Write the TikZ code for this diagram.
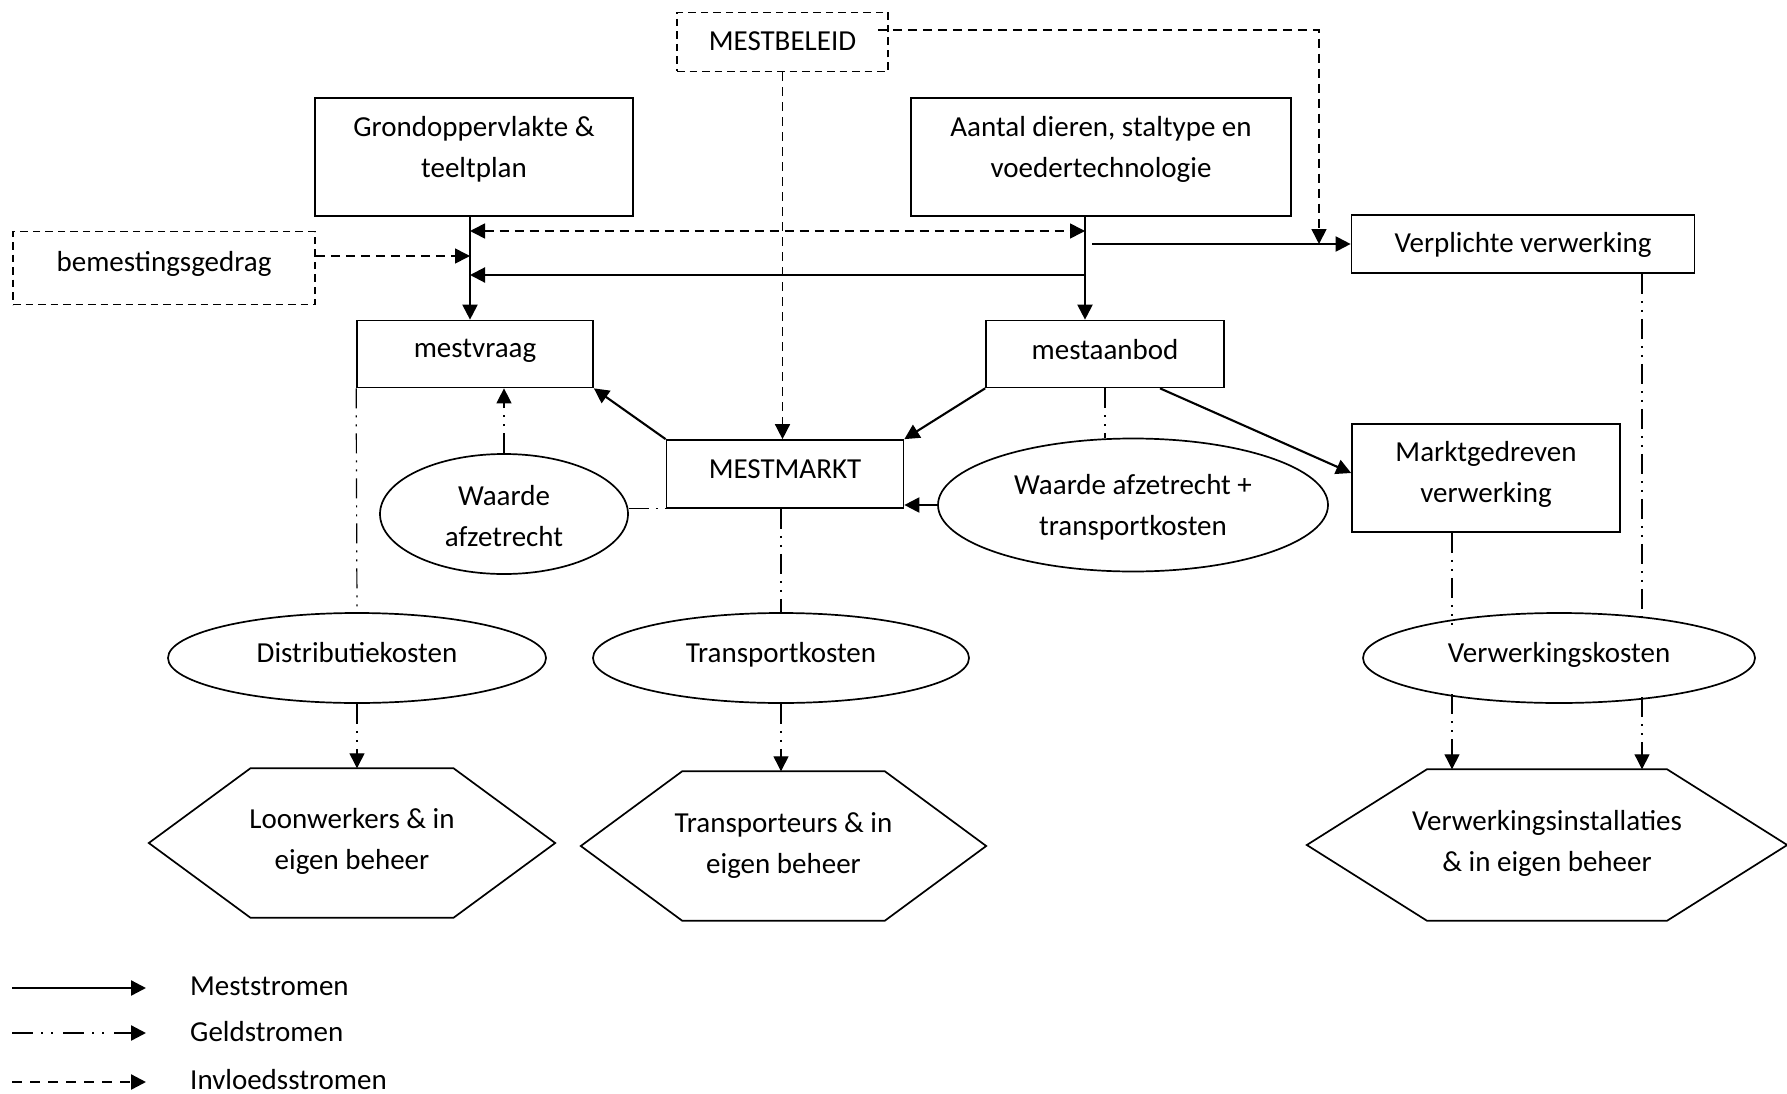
\documentclass[tikz,border=0pt]{standalone}
\usepackage{fontspec}
\setmainfont{Carlito}
\usetikzlibrary{arrows.meta,calc,shapes.geometric}
\begin{document}
\begin{tikzpicture}[x=1pt,y=-1pt,
  font=\fontsize{29}{41}\selectfont,
  box/.style={draw,line width=1.7pt,rectangle,inner sep=0pt},
  dbox/.style={box,line width=1.5pt,dash pattern=on 7.5pt off 5pt},
  ell/.style={draw,line width=1.7pt,ellipse,inner sep=0pt},
  hexbase/.style={inner sep=0pt},
  txt/.style={align=center,inner sep=0pt},
  hexline/.style={line width=1.7pt,line join=miter},
  tip/.style={-{Triangle[length=15pt,width=15pt]}},
  mest/.style={line width=2.1pt,tip},
  invl/.style={line width=1.6pt,dash pattern=on 9pt off 6pt,tip},
  geld/.style={line width=1.2pt,dash pattern=on 20pt off 7pt on 2pt off 7pt on 2pt off 7pt},
  legtext/.style={anchor=west,inner sep=0pt}
]
\useasboundingbox (0,0) rectangle (1787,1094);

% shapes
\node[dbox,minimum width=211pt,minimum height=59pt] (beleid) at (782.5,42) {};
\node[box,minimum width=318pt,minimum height=118pt] (grond) at (474,157) {};
\node[box,minimum width=380pt,minimum height=118pt] (aantal) at (1101,157) {};
\node[dbox,minimum width=302pt,minimum height=73pt] (bemest) at (164,268) {};
\node[box,minimum width=343pt,minimum height=58pt] (verpl) at (1523,244) {};
\node[box,minimum width=236pt,minimum height=67pt] (vraag) at (475,354) {};
\node[box,minimum width=238pt,minimum height=67pt] (aanbod) at (1105,354) {};
\node[box,minimum width=237pt,minimum height=68pt] (markt) at (785,474) {};
\node[ell,minimum width=248pt,minimum height=120pt] (wa) at (504,514) {};
\node[ell,minimum width=390pt,minimum height=133pt] (wat) at (1133,505) {};
\node[box,minimum width=268pt,minimum height=108pt] (marktg) at (1486,478) {};
\node[ell,minimum width=378pt,minimum height=90pt] (distr) at (357,658) {};
\node[ell,minimum width=376pt,minimum height=90pt] (transk) at (781,658) {};
\node[ell,minimum width=392pt,minimum height=90pt] (verwk) at (1559,658) {};
\node[hexbase,minimum width=406pt,minimum height=149pt] (loon) at (352,843) {};
\node[hexbase,minimum width=405pt,minimum height=149pt] (transp) at (783.5,846) {};
\node[hexbase,minimum width=480pt,minimum height=151pt] (inst) at (1547,845) {};

% texts
\node[txt] (beleidT) at ($(beleid)+(0,-1)$) {MESTBELEID};
\node[txt] (grondT) at ($(grond)+(0,-8)$) {Grondoppervlakte \&\\teeltplan};
\node[txt] (aantalT) at ($(aantal)+(0,-8)$) {Aantal dieren, staltype en\\voedertechnologie};
\node[txt] (bemestT) at ($(bemest)+(0,-4.5)$) {bemestingsgedrag};
\node[txt] (verplT) at ($(verpl)+(0,1)$) {Verplichte verwerking};
\node[txt] (vraagT) at ($(vraag)+(0,-3)$) {mestvraag};
\node[txt] (aanbodT) at ($(aanbod)+(0,-4.5)$) {mestaanbod};
\node[txt] (marktT) at ($(markt)+(0,-4.5)$) {MESTMARKT};
\node[txt] (waT) at ($(wa)+(0,2)$) {Waarde\\afzetrecht};
\node[txt] (watT) at ($(wat)+(0,2)$) {Waarde afzetrecht +\\transportkosten};
\node[txt] (marktgT) at ($(marktg)+(0,-3.5)$) {Marktgedreven\\verwerking};
\node[txt] (distrT) at ($(distr)+(0,-5)$) {Distributiekosten};
\node[txt] (transkT) at ($(transk)+(0,-3)$) {Transportkosten};
\node[txt] (verwkT) at ($(verwk)+(0,-3)$) {Verwerkingskosten};
\node[txt] (loonT) at ($(loon)+(0,-2)$) {Loonwerkers \& in\\eigen beheer};
\node[txt] (transpT) at (transp) {Transporteurs \& in\\eigen beheer};
\node[txt] (instT) at ($(inst)+(0,-2)$) {Verwerkingsinstallaties\\\& in eigen beheer};

% hexagon outlines
\foreach \h in {loon,transp,inst}{
  \draw[hexline] (\h.west) -- ($(\h.north west)!0.25!(\h.north east)$) -- ($(\h.north west)!0.75!(\h.north east)$) -- (\h.east) -- ($(\h.south west)!0.75!(\h.south east)$) -- ($(\h.south west)!0.25!(\h.south east)$) -- cycle;
}

% junction coordinates
\coordinate (gv) at ($(grond.south)+(-4,0)$);
\coordinate (av) at ($(aantal.south)+(-16,0)$);
\coordinate (bturn) at (1319,30);
\coordinate (bstart) at ($(beleid.east |- bturn)+(-11,0)$);
\coordinate (ams) at ($(aanbod.south)+(55,0)$);
\coordinate (vr) at ($(verpl.south)+(119,0)$);
\coordinate (ml) at ($(marktg.south)+(-34,0)$);

% meststromen
\draw[mest] (gv) -- (gv |- vraag.north);
\draw[mest] (av) -- (av |- aanbod.north);
\draw[mest] (av |- 0,275) -- (gv |- 0,275);
\draw[mest] ($(av |- verpl.west)+(7,0)$) -- (verpl.west);
\draw[mest] (markt.north west) -- (vraag.south east);
\draw[mest] (aanbod.south west) -- (markt.north east);
\draw[mest] (ams) -- ($(marktg.west)+(0,-5)$);
\draw[mest] (wat.west) -- (markt.east |- wat.west);

% invloedsstromen
\draw[invl,{Triangle[length=15pt,width=15pt]}-{Triangle[length=15pt,width=15pt]}] (gv |- 0,231) -- (av |- 0,231);
\draw[invl] (bemest.east |- 0,256) -- (gv |- 0,256);
\draw[invl] (bstart) -- (bturn) -- (bturn |- verpl.west);
\draw[invl] (beleid.south) -- (beleid.south |- markt.north);

% geldstromen
\draw[geld] (vraag.south west) -- (distr.north);
\draw[geld,tip] (distr.south) -- (distr.south |- loon.north);
\draw[geld,tip] (wa.north) -- (wa.north |- vraag.south);
\draw[geld] (wa.east |- markt.south west) -- (markt.south west);
\draw[geld] (transk.north |- markt.south) -- (transk.north);
\draw[geld,tip] (transk.south) -- (transk.south |- transp.north);
\draw[geld] (aanbod.south) -- (aanbod.south |- wat.north);
\draw[geld] (vr) -- (vr |- 0,617);
\draw[geld] (ml) -- (ml |- 0,625);
\draw[geld,tip] (ml |- 0,694) -- (ml |- inst.north);
\draw[geld,tip] (vr |- 0,697) -- (vr |- inst.north);

% legend
\node[legtext] (lmest) at (190,986) {Meststromen};
\node[legtext] (lgeld) at (190,1032) {Geldstromen};
\node[legtext] (linvl) at (190,1080) {Invloedsstromen};
\coordinate (lm1) at (12,988);
\coordinate (lm2) at (146,988);
\coordinate (lg1) at (12,1033);
\coordinate (lg2) at (146,1033);
\coordinate (li1) at (12,1082);
\coordinate (li2) at (146,1082);
\draw[mest,line width=2.4pt] (lm1) -- (lm2);
\draw[line width=2.4pt,tip,dash pattern=on 21pt off 8pt on 2pt off 8pt on 2pt off 10pt] (lg1) -- (lg2);
\draw[invl,line width=2.4pt,dash pattern=on 10pt off 8pt] (li1) -- (li2);
\end{tikzpicture}
\end{document}
